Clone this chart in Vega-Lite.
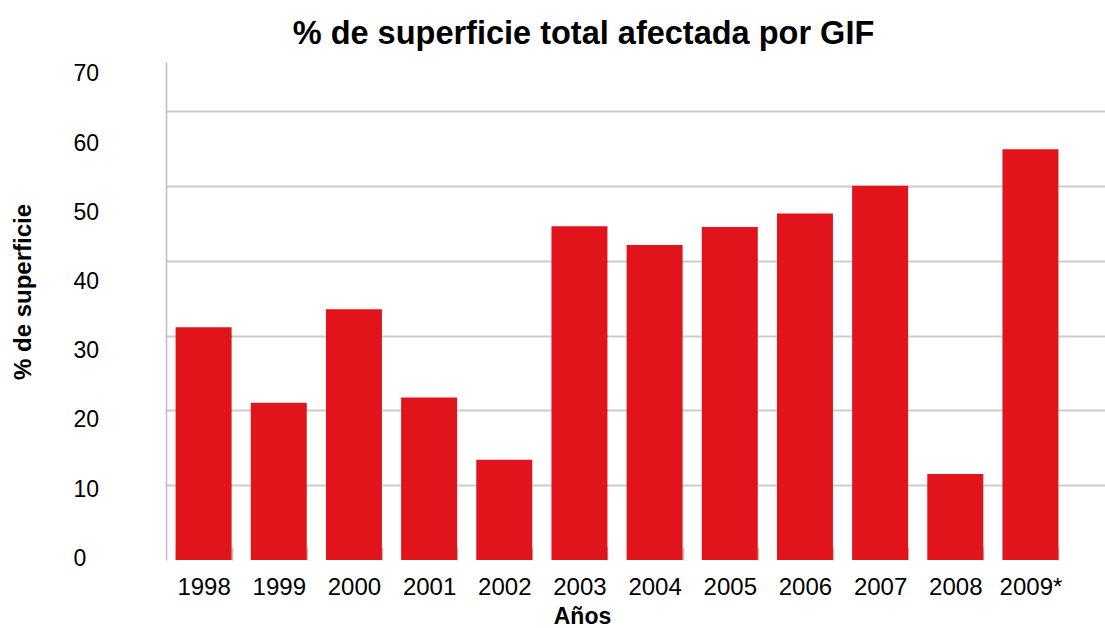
{
  "$schema": "https://vega.github.io/schema/vega-lite/v6.json",
  "autosize": "none",
  "width": 939,
  "height": 498,
  "padding": {"left": 166, "top": 62, "right": 0, "bottom": 68},
  "background": "white",
  "title": {
    "text": "% de superficie total afectada por GIF",
    "font": "Liberation Sans",
    "fontSize": 32.5,
    "fontWeight": "bold",
    "color": "#000000",
    "anchor": "middle",
    "dx": -52,
    "offset": 12
  },
  "config": {
    "view": {"stroke": null},
    "axis": {"labelFont": "Liberation Sans", "titleFont": "Liberation Sans", "labelColor": "#000000", "titleColor": "#000000"}
  },
  "data": {
    "values": [
      {"year": "1998", "pct": 31.1},
      {"year": "1999", "pct": 21.0},
      {"year": "2000", "pct": 33.5},
      {"year": "2001", "pct": 21.7},
      {"year": "2002", "pct": 13.4},
      {"year": "2003", "pct": 44.6},
      {"year": "2004", "pct": 42.1},
      {"year": "2005", "pct": 44.5},
      {"year": "2006", "pct": 46.3},
      {"year": "2007", "pct": 50.0},
      {"year": "2008", "pct": 11.5},
      {"year": "2009*", "pct": 54.9}
    ]
  },
  "encoding": {
    "x": {
      "field": "year",
      "type": "nominal",
      "sort": null,
      "scale": {"paddingInner": 0.255, "paddingOuter": 0.3735, "align": 0.171},
      "axis": {
        "title": "Años",
        "titleFontSize": 23,
        "titleFontWeight": "bold",
        "titleX": 416,
        "titleY": 63,
        "titleAlign": "center",
        "titleBaseline": "alphabetic",
        "labelAngle": 0,
        "labelFontSize": 24,
        "labelPadding": 28.5,
        "labelBaseline": "top",
        "domain": false,
        "ticks": true,
        "tickBand": "extent",
        "tickSize": -13,
        "tickColor": "#bdbdbd",
        "tickWidth": 1.5,
        "grid": false
      }
    }
  },
  "layer": [
    {
      "mark": {"type": "bar", "color": "#e1141c"},
      "encoding": {
        "y": {
          "field": "pct",
          "type": "quantitative",
          "scale": {"domain": [0, 66.55], "nice": false, "zero": true},
          "axis": {
            "orient": "left",
            "title": null,
            "labels": false,
            "ticks": false,
            "domain": true,
            "domainColor": "#bdbdbd",
            "domainWidth": 1.5,
            "grid": true,
            "values": [10, 20, 30, 40, 50, 60],
            "gridColor": "#cccccc",
            "gridWidth": 2
          }
        }
      }
    },
    {
      "mark": {"type": "point", "opacity": 0},
      "encoding": {
        "y": {
          "field": "pct",
          "type": "quantitative",
          "scale": {"domain": [-0.25, 71.73], "nice": false, "zero": false},
          "axis": {
            "orient": "left",
            "title": "% de superficie",
            "titleFontSize": 24,
            "titleFontWeight": "bold",
            "titlePadding": 38,
            "titleY": 229.5,
            "titleAlign": "center",
            "values": [0, 10, 20, 30, 40, 50, 60, 70],
            "labelAlign": "left",
            "labelPadding": 93,
            "labelFontSize": 23,
            "labelFlush": false,
            "labelOverlap": false,
            "ticks": false,
            "tickSize": 0,
            "domain": false,
            "grid": false
          }
        }
      }
    }
  ],
  "resolve": {"scale": {"y": "independent"}, "axis": {"y": "independent"}}
}
